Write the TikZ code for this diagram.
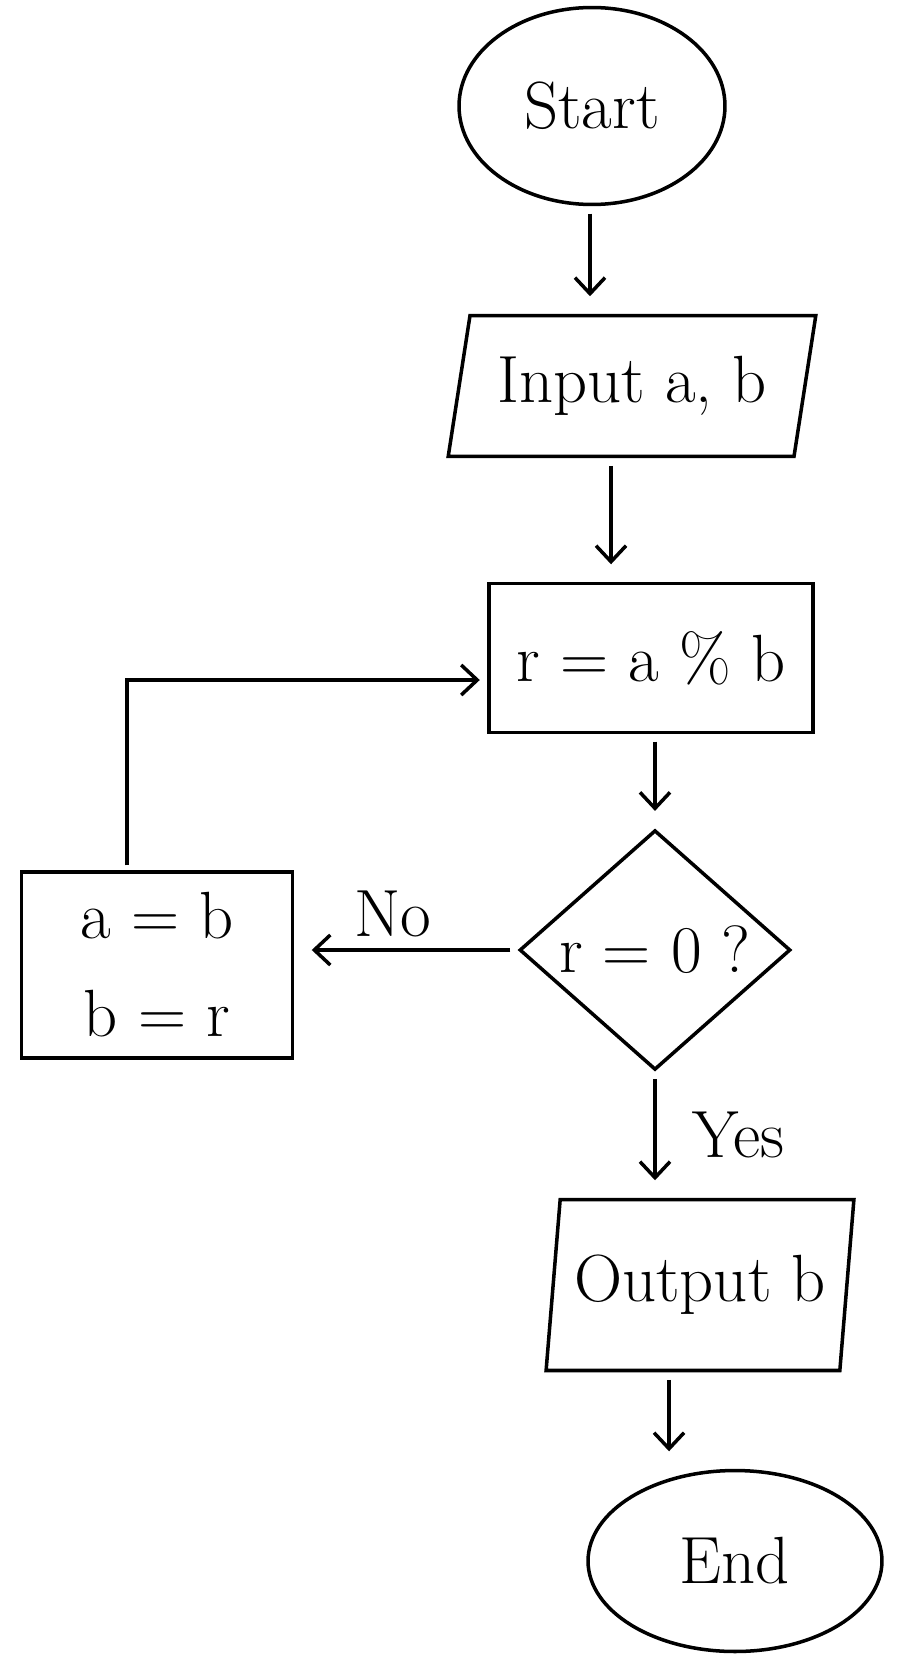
\documentclass[tikz,border=0pt]{standalone}
\usepackage{fontspec}
\usetikzlibrary{shapes.geometric, arrows.meta, positioning}

\begin{document}
\begin{tikzpicture}[x=0.02cm, y=-0.02cm, line width=2pt,
    font=\fontsize{38}{50}\selectfont,
    flow/.style={-{Straight Barb[length=0.32cm, width=0.6cm, line width=2pt]}, shorten <=0.15cm, shorten >=0.35cm},
    term node/.style={ellipse, draw, inner sep=0pt},
    io node/.style={trapezium, draw, trapezium stretches=true, inner sep=0pt},
    proc node/.style={rectangle, draw, inner sep=0pt},
    dec node/.style={diamond, draw, inner sep=0pt}]
    \useasboundingbox (0,0) rectangle (902,1666);

        \node[term node, minimum width=5.32cm, minimum height=3.94cm] (start) at (592,106) {Start};
        \node[io node, trapezium left angle=73, trapezium right angle=107, minimum width=7.36cm, minimum height=2.82cm] (input) at (632,386) {Input a, b};
        \node[proc node, minimum width=6.48cm, minimum height=2.98cm] (mod) at (651,658) {r = a \% b};
        \node[dec node, minimum width=5.42cm, minimum height=4.56cm] (test) at (655,950) {r = 0 ?};
        \node[proc node, minimum width=5.42cm, minimum height=3.72cm, align=center] (swap) at (157,965) {a = b\\[0.2cm] b = r};
        \node[io node, trapezium left angle=78, trapezium right angle=102, minimum width=6.16cm, minimum height=3.42cm] (output) at (700,1285) {Output b};
        \node[term node, minimum width=5.88cm, minimum height=3.62cm] (end) at (735,1561) {End};

        \path[flow]
        ([xshift=-0.04cm]start.south) edge ([xshift=-0.04cm]start.south |- input.north)
        ([xshift=-0.42cm]input.south) edge ([xshift=-0.42cm]input.south |- mod.north)
        (mod.south -| test.north) edge (test.north)
        (test.west) edge node[above, pos=0.56, yshift=0.1cm] {No} (test.west -| swap.east)
        (test.south) edge node[right=0.6cm, pos=0.5] {Yes} (test.south |- output.north)
        ([xshift=-0.62cm]output.south) edge ([xshift=-0.62cm]output.south |- end.north);

        \draw[flow, shorten <=0.1cm, shorten >=0.15cm] ([xshift=-0.6cm]swap.north) |- ([yshift=-0.44cm]mod.west);

    \end{tikzpicture}
\end{document}
